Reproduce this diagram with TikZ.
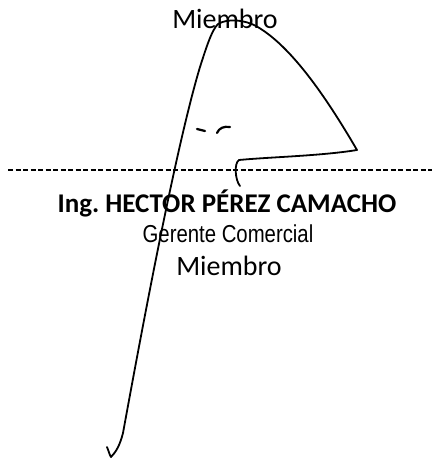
\documentclass[tikz,border=0pt]{standalone}
\usepackage{fontspec}
\setmainfont{Carlito}
\newfontfamily\arialf{Liberation Sans}
\begin{document}
\begin{tikzpicture}[x=1pt,y=-1pt,
  txt/.style={inner sep=0pt,anchor=base},
  sig/.style={line width=1.8pt,line cap=round,line join=round},
  sep/.style={line width=1.4pt,dash pattern=on 5pt off 2.5pt}]
\useasboundingbox (0,0) rectangle (433,459);
\node[txt,font=\fontsize{28}{32}\selectfont] (m1) at (225,28) {Miembro};
\node[txt,font=\bfseries\fontsize{27}{31}\selectfont] (name) at (227,212) {Ing.\ HECTOR PÉREZ CAMACHO};
\node[txt,font=\arialf\fontsize{24.5}{28}\selectfont] (role) at (228,242) {\scalebox{0.83}[1]{Gerente Comercial}};
\node[txt,font=\fontsize{28}{32}\selectfont] (m2) at (229,275) {Miembro};
\coordinate (l0) at (8,170);
\coordinate (l1) at (432,170);
\draw[sep] (l0) -- (l1);
% signature
\coordinate (s0) at (107,447);
\coordinate (s1) at (111,457);
\coordinate (s2) at (123,433);
\coordinate (top) at (218,24);
\coordinate (tip) at (357,150);
\coordinate (hk) at (239,160);
\coordinate (end) at (240,186);
\draw[sig] (s0) .. controls (109,452) and (110,456) .. (s1)
  .. controls (116,452) and (120,445) .. (s2)
  .. controls (140,340) and (175,150) .. (200,67)
  .. controls (207,45) and (212,30) .. (top)
  .. controls (228,18) and (245,20) .. (256,26)
  .. controls (290,45) and (325,95) .. (tip)
  .. controls (320,156) and (270,157) .. (hk)
  .. controls (234,163) and (235,180) .. (end);
\coordinate (d0) at (197,129);
\coordinate (d1) at (205,131);
\draw[sig,line width=2.2pt] (d0) -- (d1);
\coordinate (c0) at (217,133);
\coordinate (c1) at (230,127);
\draw[sig,line width=2.2pt] (c0) .. controls (219,128) and (224,126) .. (c1);
\end{tikzpicture}
\end{document}
